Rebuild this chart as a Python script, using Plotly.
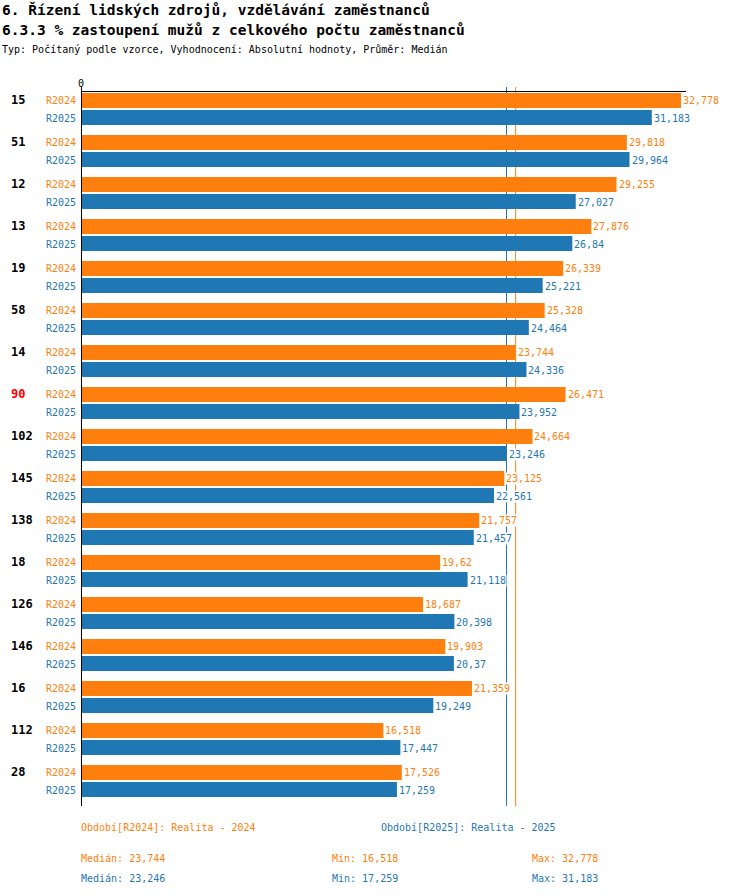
import numpy as np
import plotly.graph_objects as go

# ---------------- data ----------------
groups = ["15", "51", "12", "13", "19", "58", "14", "90", "102",
          "145", "138", "18", "126", "146", "16", "112", "28"]
highlight_groups = ["90"]
series_names = ["R2024", "R2025"]
r2024 = [32.778, 29.818, 29.255, 27.876, 26.339, 25.328, 23.744, 26.471, 24.664,
         23.125, 21.757, 19.62, 18.687, 19.903, 21.359, 16.518, 17.526]
r2025 = [31.183, 29.964, 27.027, 26.84, 25.221, 24.464, 24.336, 23.952, 23.246,
         22.561, 21.457, 21.118, 20.398, 20.37, 19.249, 17.447, 17.259]
legend_labels = ["Období[R2024]: Realita - 2024", "Období[R2025]: Realita - 2025"]
title1 = "6. Řízení lidských zdrojů, vzdělávání zaměstnanců"
title2 = "6.3.3 % zastoupení mužů z celkového počtu zaměstnanců"
subtitle = "Typ: Počítaný podle vzorce, Vyhodnocení: Absolutní hodnoty, Průměr: Medián"
x_tick_vals = [0]
x_tick_text = ["0"]

# ---------------- style ----------------
colors = ["#ff7f0e", "#1f77b4"]
FONT = "DejaVu Sans Mono"
W, H = 750, 896
ML, MR, MT, MB = 81, 64, 92, 90
PW, PH = W - ML - MR, H - MT - MB


def px_x(px):
    return (px - ML) / PW


def px_y(py):
    return (H - MB - py) / PH


def fmt(v):
    return f"{v:g}".replace(".", ",")


series = [r2024, r2025]
fig = go.Figure()
for name, vals, col in zip(series_names, series, colors):
    fig.add_trace(go.Bar(
        x=vals, y=groups, orientation="h", name=name,
        marker=dict(color=col, line=dict(width=0)),
        showlegend=False,
        hovertemplate="%{y} " + name + ": %{x}<extra></extra>",
    ))

annotations = []
shifts = [9, -9]
for si, (name, vals, col) in enumerate(zip(series_names, series, colors)):
    for gi, v in enumerate(vals):
        annotations.append(dict(
            x=v, y=gi, xref="x", yref="y", text=fmt(v), showarrow=False,
            xanchor="left", yanchor="middle", xshift=1, yshift=shifts[si],
            font=dict(family=FONT, size=10, color=col),
            bgcolor="white", borderpad=0,
        ))
        annotations.append(dict(
            x=0, y=gi, xref="paper", yref="y", text=name, showarrow=False,
            xanchor="right", yanchor="middle", xshift=-3, yshift=shifts[si],
            font=dict(family=FONT, size=10, color=col),
        ))

for gi, g in enumerate(groups):
    annotations.append(dict(
        x=px_x(9), y=gi, xref="paper", yref="y", text="<b>" + g + "</b>",
        showarrow=False, xanchor="left", yanchor="middle", yshift=9,
        font=dict(family=FONT, size=12,
                  color="#ff0000" if g in highlight_groups else "#000000"),
    ))

# titles
for txt, py, size, bold in [(title1, 10, 14.5, True), (title2, 30, 14.5, True),
                            (subtitle, 50, 10, False)]:
    annotations.append(dict(
        x=px_x(0), y=px_y(py), xref="paper", yref="paper",
        text=("<b>" + txt + "</b>") if bold else txt, showarrow=False,
        xanchor="left", yanchor="middle",
        font=dict(family=FONT, size=size, color="#000000"),
    ))

# legend and statistics
for i, (lab, vals, col) in enumerate(zip(legend_labels, series, colors)):
    annotations.append(dict(
        x=px_x([79, 379][i]), y=px_y(828), xref="paper", yref="paper",
        text=lab, showarrow=False, xanchor="left", yanchor="middle",
        font=dict(family=FONT, size=10, color=col),
    ))
    row_y = [858, 878][i]
    stats = [("Medián: " + fmt(float(np.median(vals))), 79),
             ("Min: " + fmt(min(vals)), 330),
             ("Max: " + fmt(max(vals)), 530)]
    for txt, px in stats:
        annotations.append(dict(
            x=px_x(px), y=px_y(row_y), xref="paper", yref="paper",
            text=txt, showarrow=False, xanchor="left", yanchor="middle",
            font=dict(family=FONT, size=10, color=col),
        ))

# median lines
shapes = []
for vals, col in zip(series, colors):
    m = float(np.median(vals))
    shapes.append(dict(type="line", xref="x", yref="paper", x0=m, x1=m,
                       y0=0, y1=px_y(87), line=dict(color=col, width=1),
                       layer="below"))
# left axis line
shapes.append(dict(type="line", xref="x", yref="paper", x0=0, x1=0,
                   y0=0, y1=px_y(87), line=dict(color="#000000", width=2),
                   layer="above"))

n = len(groups)
fig.update_layout(
    width=W, height=H, autosize=False,
    margin=dict(l=ML, r=MR, t=MT, b=MB, pad=0),
    paper_bgcolor="white", plot_bgcolor="white",
    barmode="group", bargap=8 / 42, bargroupgap=2 / 17,
    font=dict(family=FONT, size=10, color="#000000"),
    xaxis=dict(side="top", range=[0, 33.05], showgrid=False, zeroline=False,
               showline=True, linecolor="#000000", linewidth=1,
               tickvals=x_tick_vals, ticktext=x_tick_text, ticks="",
               tickfont=dict(family=FONT, size=10, color="#000000"),
               fixedrange=True),
    yaxis=dict(type="category", range=[n - 1 + 25 / 42, -17 / 42],
               autorange=False, showgrid=False, zeroline=False,
               showline=False, showticklabels=False, ticks="",
               fixedrange=True),
    annotations=annotations, shapes=shapes,
)

fig.write_html("out.html", config={"displayModeBar": False},
               post_script="document.body.style.margin='0';document.body.style.overflow='hidden';")
